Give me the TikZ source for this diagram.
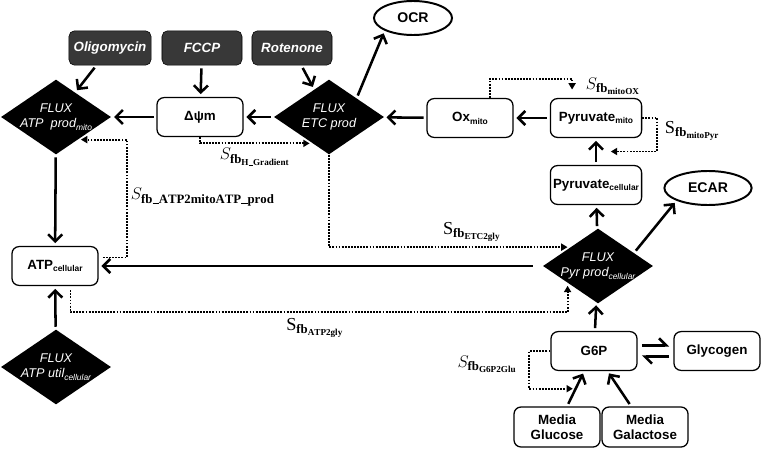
\documentclass[tikz,border=0pt]{standalone}
\usepackage{fontspec}
\setmainfont{Liberation Sans}
\setmathrm{Liberation Serif}
\usetikzlibrary{arrows.meta,shapes.geometric,calc}
\newcommand{\subtxt}[1]{\raisebox{-.4ex}{\fontsize{6}{6}\selectfont #1}}
\newcommand{\usc}[1]{\rule[-0.5pt]{#1}{0.6pt}}

\begin{document}
\begin{tikzpicture}
  [x=0.025cm,y=-0.025cm,
   box/.style={draw,rounded corners=5pt,line width=0.9pt,minimum width=2.15cm,minimum height=0.97cm,
     font=\fontsize{9.5}{11}\selectfont\bfseries,align=center,inner sep=1pt},
   drug/.style={draw,fill=black!78,text=white,rounded corners=4pt,minimum width=2cm,minimum height=0.86cm,
     font=\fontsize{9.5}{11}\selectfont\bfseries\itshape},
   flux/.style={diamond,fill=black,minimum width=2.75cm,minimum height=1.87cm,inner sep=0pt},
   fluxtext/.style={text=white,font=\fontsize{9}{11}\selectfont\itshape,align=center},
   rate/.style={ellipse,draw,line width=1.4pt,minimum width=1.95cm,minimum height=0.85cm,
     font=\fontsize{10}{12}\selectfont\bfseries},
   flow/.style={line width=1.8pt,-{Straight Barb[length=5pt,width=10pt]},shorten >=2pt,shorten <=2pt},
   fb/.style={line width=1.3pt,dash pattern=on 1.3pt off 0.9pt,-{Triangle[length=4.5pt,width=5pt]},shorten >=2pt},
   sfb/.style={font=\fontsize{13}{15}\selectfont}]
  \useasboundingbox (0,0) rectangle (761,453);

  \node[drug] (oligo) at (110,48) {Oligomycin};
  \node[drug] (fccp) at (202,48) {FCCP};
  \node[drug] (rot) at (292,48) {Rotenone};
  \node[rate] (ocr) at (413,18) {OCR};
  \node[flux,label={[fluxtext]center:FLUX\\ATP~~prod\subtxt{mito}}] (atpprod) at (56,117) {};
  \node[box] (dpsi) at (200,117) {Δψm};
  \node[flux,label={[fluxtext]center:FLUX\\ETC prod}] (etc) at (329,117) {};
  \node[box] (ox) at (470,118) {Ox\subtxt{mito}};
  \node[box,minimum width=2.28cm] (pyrm) at (596,118) {Pyruvate\subtxt{mito}};
  \node[box,minimum width=2.28cm] (pyrc) at (596,185) {Pyruvate\subtxt{cellular}};
  \node[rate,minimum width=2.18cm] (ecar) at (708,188) {ECAR};
  \node[flux,label={[fluxtext]center:FLUX\\Pyr prod\subtxt{cellular}}] (pyrprod) at (598,266) {};
  \node[box] (atpc) at (55,266) {ATP\subtxt{cellular}};
  \node[flux,label={[fluxtext]center:FLUX\\ATP util\subtxt{cellular}}] (atputil) at (56,367) {};
  \node[box] (g6p) at (594,351) {G6P};
  \node[box] (glyc) at (717,351) {Glycogen};
  \node[box,minimum height=1cm] (glu) at (557,427) {Media\\Glucose};
  \node[box,minimum height=1cm] (gal) at (645,427) {Media\\Galactose};

  \node[sfb] (shgrad) at (255,157) {$S_{\mathbf{fb}_{\mathbf{H}\usc{3.2pt}\mathbf{Gradient}}}$};
  \node[sfb,anchor=west] (satpmito) at (126,197)
    {$S_{\mathbf{fb}\usc{4.5pt}\mathbf{ATP2mitoATP}\usc{4.5pt}\mathbf{prod}}$};
  \node[sfb,anchor=west] (smitoox) at (581,86) {$S_{\mathbf{fb}_{\mathbf{mitoOX}}}$};
  \node[sfb,anchor=west] (smitopyr) at (660,131) {$\mathrm{S}_{\mathbf{fb}_{\mathbf{mitoPyr}}}$};
  \node[sfb] (setcgly) at (472,232) {$\mathrm{S}_{\mathbf{fb}_{\mathbf{ETC2gly}}}$};
  \node[sfb] (satpgly) at (315,328) {$\mathrm{S}_{\mathbf{fb}_{\mathbf{ATP2gly}}}$};
  \node[sfb,anchor=east] (sg6p) at (522,364) {$S_{\mathbf{fb}_{\mathbf{G6P2Glu}}}$};

  \foreach \from/\to in {oligo/atpprod,fccp/dpsi,rot/etc,etc.north east/ocr.south west,dpsi/atpprod,
      etc/dpsi,ox/etc,pyrm/ox,pyrc/pyrm,pyrprod/pyrc,pyrprod.20/ecar.south west,atpprod/atpc,
      atputil/atpc,g6p/pyrprod,gal/g6p}
    \draw[flow] (\from) -- (\to);
  \draw[flow,shorten <=7pt] (pyrprod) -- (atpc);
  \draw[flow] (glu) -- (g6p) coordinate[pos=.5] (glumid);
  \draw[flow,shorten <=3pt,shorten >=3pt,-{Straight Barb[left,length=5pt,width=10pt]}]
    ([yshift=4pt]g6p.east) -- ([yshift=4pt]glyc.west);
  \draw[flow,shorten <=3pt,shorten >=3pt,-{Straight Barb[left,length=5pt,width=10pt]}]
    ([yshift=-4pt]glyc.west) -- ([yshift=-4pt]g6p.east);

  \draw[fb] (dpsi.south) |- ($(etc.south)!.3!(etc.west)$);
  \draw[fb] ([xshift=3pt,yshift=6pt]atpc.east) -- ++(24,0) |- ($(atpprod.south)!.4!(atpprod.east)$);
  \draw[fb] (etc.south) |- ($(pyrprod.north)!.5!(pyrprod.west)$);
  \draw[fb] ([xshift=11pt,yshift=-3pt]atpc.south) -- ++(0,22) -| ($(pyrprod.south)!.55!(pyrprod.west)$);
  \draw[fb,shorten >=6pt] ([xshift=14pt]ox.north) -- ++(0,-19) -| ([xshift=-17pt]pyrm.north);
  \draw[fb] (pyrm.east) -- ++(15,0) |- ($(pyrm.south)!.5!(pyrc.north)+(12,0)$);
  \draw[fb] (g6p.west) -- ++(-21,0) |- (glumid);
\end{tikzpicture}
\end{document}
